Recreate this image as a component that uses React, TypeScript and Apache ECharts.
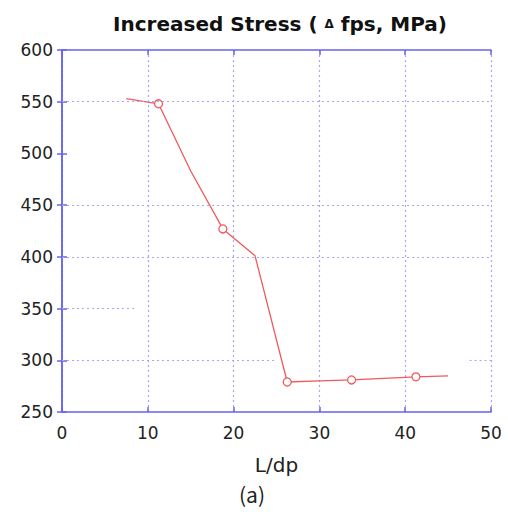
import React, { useEffect, useRef } from "react";
import * as echarts from "echarts";

const ldp = [7.5, 11.25, 15, 18.75, 22.5, 26.25, 30, 33.75, 37.5, 41.25, 45];
const stress = [553, 548, 483, 427, 401, 279, 280, 281, 282.5, 284, 285];
const markerIdx = [1, 3, 5, 7, 9];
const yTicks = [250, 300, 350, 400, 450, 500, 550, 600];

export default function App() {
  const ref = useRef<HTMLDivElement>(null);
  useEffect(() => {
    if (!ref.current) return;
    const chart = echarts.init(ref.current, null, { renderer: "svg" });
    const axisColor = "#6464ee";
    const gridColor = "#a8a8f2";
    const font = "DejaVu Sans, Verdana, sans-serif";
    const data = ldp.map((x, i) => ({
      value: [x, stress[i]],
      symbolSize: markerIdx.includes(i) ? 8 : 0,
    }));
    const hSeg = (y: number, x0: number, x1: number) => [
      { coord: [x0, y] },
      { coord: [x1, y] },
    ];
    chart.setOption({
      animation: false,
      title: {
        text: "Increased Stress ( {d|\u0394} fps, MPa)",
        left: 275,
        textAlign: "center",
        top: 9,
        textStyle: {
          fontFamily: font,
          fontWeight: "bold",
          fontSize: 20,
          color: "#111",
          rich: { d: { fontSize: 12, fontWeight: "bold", fontFamily: font, color: "#111" } },
        },
      },
      grid: { left: 62, right: 17, top: 50, bottom: 100 },
      xAxis: [
        {
          type: "value",
          min: 0,
          max: 50,
          interval: 10,
          name: "L/dp",
          nameLocation: "middle",
          nameGap: 43,
          nameTextStyle: { fontFamily: font, fontSize: 20, color: "#222" },
          axisLine: { show: true, lineStyle: { color: axisColor, width: 1.5 } },
          axisTick: { inside: true, length: 5, lineStyle: { color: axisColor, width: 1.5 } },
          axisLabel: { fontFamily: font, fontSize: 17, color: "#222", margin: 12 },
          splitLine: { show: true, lineStyle: { color: gridColor, type: [2, 3], width: 1.2 } },
        },
        {
          type: "value",
          min: 0,
          max: 50,
          interval: 10,
          position: "top",
          axisLine: { show: true, lineStyle: { color: axisColor, width: 1.5 } },
          axisTick: { inside: true, length: 5, lineStyle: { color: axisColor, width: 1.5 } },
          axisLabel: { show: false },
          splitLine: { show: false },
        },
      ],
      yAxis: [
        {
          type: "value",
          min: 250,
          max: 600,
          interval: 50,
          axisLine: { show: true, lineStyle: { color: axisColor, width: 1.5 } },
          axisTick: { inside: true, length: 5, lineStyle: { color: axisColor, width: 1.5 } },
          axisLabel: {
            fontFamily: font,
            fontSize: 17,
            color: "#222",
            margin: 9,
            formatter: (v: number) => (yTicks.includes(v) ? String(v) : ""),
          },
          splitLine: { show: false },
        },
        {
          type: "value",
          min: 250,
          max: 600,
          interval: 50,
          position: "right",
          axisLine: { show: true, lineStyle: { color: axisColor, width: 1.5 } },
          axisTick: { inside: true, length: 5, lineStyle: { color: axisColor, width: 1.5 } },
          axisLabel: { show: false },
          splitLine: { show: false },
        },
      ],
      series: [
        {
          type: "line",
          data,
          symbol: "circle",
          showSymbol: true,
          itemStyle: { color: "#fff", borderColor: "#ef5a5a", borderWidth: 1.3 },
          lineStyle: { color: "#ef5a5a", width: 1.3 },
          z: 3,
          markLine: {
            silent: true,
            symbol: "none",
            label: { show: false },
            lineStyle: { color: gridColor, type: [2, 3], width: 1.2 },
            data: [
              hSeg(550, 0, 50),
              hSeg(450, 0, 50),
              hSeg(400, 0, 50),
              hSeg(350, 0, 8.6),
              hSeg(300, 0, 25),
              hSeg(300, 47.5, 50),
            ],
          },
        },
      ],
      graphic: [
        {
          type: "text",
          left: 239,
          top: 483,
          style: {
            text: "(a)",
            fontFamily: "Noto Sans CJK KR, sans-serif",
            fontSize: 21,
            fill: "#222",
          },
        },
      ],
    });
    return () => chart.dispose();
  }, []);
  return <div ref={ref} style={{ width: 508, height: 512, position: "absolute", left: 0, top: 0 }} />;
}
